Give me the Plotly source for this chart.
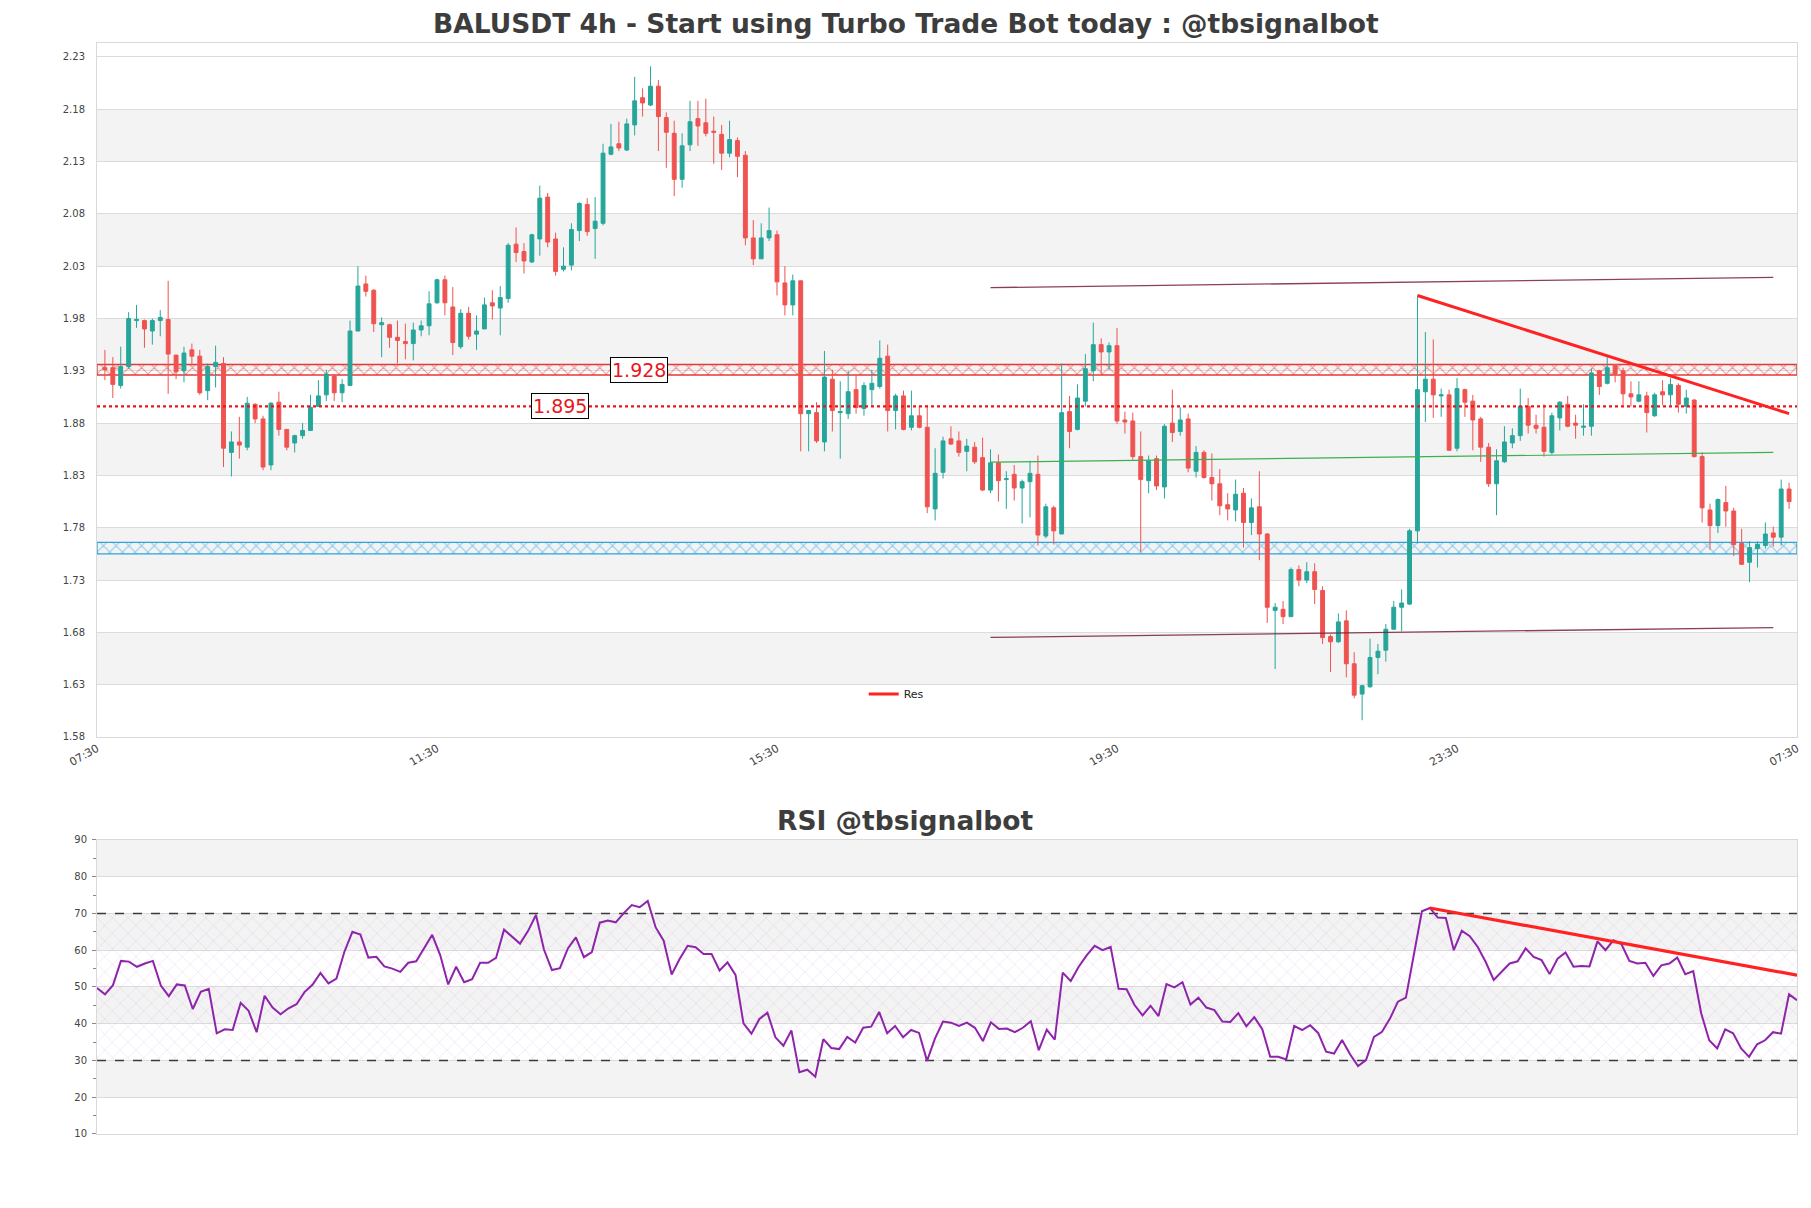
import numpy as np
import plotly.graph_objects as go

# ---------------- data ----------------
open_ = [1.933,1.933,1.916,1.934,1.978,1.978,1.968,1.978,1.979,1.945,
         1.930,1.950,1.944,1.911,1.934,1.937,1.852,1.862,1.857,1.898,
         1.884,1.840,1.900,1.874,1.861,1.868,1.873,1.896,1.907,1.925,
         1.909,1.916,1.968,2.013,2.007,1.974,1.974,1.962,1.958,1.956,
         1.969,1.973,1.995,2.017,1.991,1.953,1.985,1.965,1.970,1.995,
         1.990,1.999,2.051,2.044,2.034,2.056,2.096,2.056,2.027,2.031,
         2.064,2.089,2.066,2.071,2.137,2.147,2.141,2.165,2.191,2.184,
         2.202,2.172,2.157,2.113,2.146,2.171,2.167,2.159,2.156,2.138,
         2.150,2.136,2.057,2.037,2.057,2.060,2.014,1.993,2.016,1.889,
         1.890,1.862,1.922,1.890,1.889,1.912,1.894,1.912,1.915,1.944,
         1.892,1.906,1.876,1.887,1.876,1.798,1.833,1.865,1.863,1.853,
         1.857,1.847,1.816,1.842,1.826,1.831,1.818,1.824,1.831,1.772,
         1.799,1.774,1.891,1.874,1.901,1.930,1.955,1.948,1.954,1.883,
         1.882,1.848,1.825,1.846,1.819,1.880,1.872,1.884,1.834,1.852,
         1.828,1.822,1.802,1.797,1.813,1.785,1.800,1.774,1.701,1.702,
         1.695,1.740,1.730,1.738,1.720,1.676,1.671,1.691,1.650,1.621,
         1.628,1.656,1.663,1.683,1.704,1.707,1.777,1.910,1.922,1.906,
         1.907,1.856,1.912,1.901,1.884,1.857,1.822,1.843,1.861,1.868,
         1.896,1.878,1.876,1.852,1.885,1.898,1.880,1.876,1.877,1.930,
         1.918,1.936,1.930,1.908,1.901,1.906,1.887,1.910,1.907,1.916,
         1.896,1.902,1.848,1.797,1.782,1.804,1.796,1.765,1.747,1.760,
         1.763,1.775,1.771,1.817]
high = [1.950,1.943,1.953,1.986,1.993,1.979,1.980,1.988,2.016,1.945,
        1.953,1.956,1.950,1.937,1.954,1.943,1.872,1.886,1.905,1.899,
        1.887,1.900,1.910,1.874,1.869,1.880,1.907,1.921,1.931,1.927,
        1.922,1.978,2.030,2.021,2.008,1.981,1.975,1.978,1.975,1.976,
        1.978,2.006,2.018,2.021,2.010,1.989,1.991,1.983,2.000,2.007,
        2.011,2.052,2.067,2.052,2.061,2.107,2.100,2.062,2.048,2.071,
        2.091,2.095,2.096,2.147,2.166,2.168,2.171,2.211,2.200,2.221,
        2.208,2.177,2.169,2.157,2.188,2.188,2.190,2.173,2.165,2.169,
        2.153,2.140,2.074,2.071,2.086,2.064,2.030,2.022,2.016,1.892,
        1.900,1.949,1.931,1.920,1.930,1.926,1.919,1.931,1.959,1.955,
        1.908,1.911,1.911,1.896,1.897,1.856,1.867,1.877,1.872,1.865,
        1.862,1.866,1.855,1.850,1.834,1.840,1.826,1.844,1.849,1.803,
        1.801,1.937,1.906,1.917,1.946,1.976,1.961,1.957,1.971,1.891,
        1.890,1.872,1.849,1.849,1.879,1.912,1.895,1.889,1.858,1.854,
        1.851,1.836,1.813,1.826,1.818,1.808,1.834,1.775,1.708,1.710,
        1.742,1.744,1.747,1.746,1.724,1.678,1.698,1.701,1.661,1.630,
        1.674,1.669,1.688,1.710,1.721,1.779,2.002,1.967,1.960,1.913,
        1.912,1.923,1.913,1.907,1.886,1.861,1.855,1.877,1.875,1.913,
        1.904,1.888,1.898,1.890,1.901,1.906,1.888,1.898,1.932,1.931,
        1.943,1.936,1.933,1.920,1.920,1.910,1.909,1.921,1.923,1.918,
        1.912,1.903,1.852,1.803,1.808,1.820,1.799,1.779,1.767,1.767,
        1.785,1.781,1.826,1.823]
low = [1.921,1.904,1.913,1.932,1.971,1.952,1.955,1.963,1.908,1.922,
       1.919,1.935,1.907,1.902,1.914,1.838,1.829,1.846,1.854,1.880,
       1.835,1.835,1.868,1.854,1.852,1.865,1.873,1.896,1.901,1.901,
       1.900,1.916,1.968,2.001,1.967,1.943,1.952,1.937,1.941,1.940,
       1.963,1.964,1.994,1.983,1.945,1.951,1.960,1.950,1.970,1.979,
       1.964,1.995,2.034,2.023,2.033,2.040,2.048,2.021,2.025,2.026,
       2.054,2.059,2.037,2.069,2.136,2.140,2.140,2.155,2.173,2.183,
       2.140,2.124,2.097,2.105,2.140,2.145,2.154,2.128,2.122,2.134,
       2.115,2.050,2.031,2.037,2.054,2.002,1.983,1.983,1.853,1.853,
       1.861,1.853,1.872,1.846,1.884,1.889,1.887,1.896,1.913,1.872,
       1.874,1.873,1.873,1.875,1.794,1.787,1.827,1.859,1.848,1.834,
       1.841,1.815,1.813,1.805,1.798,1.806,1.784,1.790,1.763,1.770,
       1.764,1.774,1.856,1.873,1.896,1.920,1.927,1.931,1.879,1.870,
       1.845,1.757,1.813,1.816,1.808,1.862,1.868,1.833,1.828,1.827,
       1.806,1.792,1.787,1.786,1.761,1.773,1.749,1.689,1.645,1.688,
       1.695,1.724,1.727,1.707,1.669,1.642,1.670,1.637,1.617,1.596,
       1.627,1.640,1.652,1.683,1.681,1.706,1.765,1.881,1.885,1.886,
       1.854,1.853,1.886,1.854,1.843,1.819,1.792,1.842,1.856,1.863,
       1.870,1.870,1.848,1.850,1.873,1.876,1.865,1.868,1.868,1.907,
       1.917,1.919,1.897,1.896,1.900,1.871,1.886,1.897,1.897,1.890,
       1.889,1.847,1.785,1.759,1.775,1.781,1.753,1.745,1.728,1.742,
       1.760,1.762,1.763,1.798]
close = [1.931,1.917,1.934,1.980,1.979,1.970,1.978,1.981,1.946,1.929,
         1.947,1.944,1.909,1.934,1.938,1.856,1.862,1.859,1.899,1.884,
         1.838,1.899,1.874,1.857,1.868,1.873,1.895,1.906,1.927,1.909,
         1.917,1.968,2.011,2.006,1.975,1.976,1.962,1.959,1.956,1.969,
         1.973,1.994,2.017,1.995,1.957,1.985,1.963,1.968,1.993,1.992,
         2.000,2.050,2.043,2.035,2.060,2.095,2.053,2.025,2.030,2.065,
         2.090,2.063,2.073,2.138,2.144,2.143,2.166,2.188,2.186,2.202,
         2.173,2.158,2.113,2.145,2.168,2.164,2.157,2.158,2.138,2.151,
         2.135,2.057,2.037,2.057,2.064,2.015,1.993,2.016,1.889,1.892,
         1.863,1.924,1.892,1.891,1.910,1.895,1.916,1.918,1.942,1.892,
         1.906,1.874,1.887,1.876,1.800,1.832,1.863,1.860,1.852,1.858,
         1.843,1.816,1.842,1.825,1.827,1.818,1.824,1.832,1.773,1.800,
         1.777,1.890,1.872,1.904,1.932,1.955,1.948,1.954,1.882,1.881,
         1.848,1.826,1.844,1.820,1.877,1.871,1.883,1.837,1.852,1.828,
         1.822,1.801,1.798,1.812,1.785,1.799,1.774,1.704,1.704,1.695,
         1.740,1.730,1.738,1.721,1.675,1.671,1.690,1.650,1.620,1.629,
         1.656,1.662,1.683,1.704,1.708,1.777,1.912,1.922,1.907,1.907,
         1.854,1.913,1.900,1.883,1.857,1.822,1.844,1.862,1.868,1.896,
         1.878,1.875,1.853,1.887,1.900,1.877,1.878,1.877,1.928,1.915,
         1.933,1.927,1.908,1.905,1.907,1.890,1.907,1.907,1.917,1.898,
         1.904,1.848,1.799,1.782,1.807,1.796,1.764,1.745,1.761,1.764,
         1.774,1.771,1.817,1.805]
rsi = [49.7,48.0,50.5,57.1,56.9,55.5,56.4,57.1,50.4,47.5,
       50.7,50.4,44.0,48.7,49.5,37.4,38.5,38.3,45.7,43.5,
       37.7,47.6,44.4,42.6,44.2,45.3,48.6,50.6,53.8,51.0,
       52.3,59.6,65.0,64.3,58.0,58.2,55.6,55.0,54.1,56.6,
       57.0,60.6,64.2,58.7,50.7,55.5,51.3,52.1,56.6,56.6,
       57.9,65.6,63.7,61.8,65.2,69.6,60.2,54.6,55.1,60.5,
       63.5,58.1,59.5,67.5,68.1,67.6,70.1,72.3,71.7,73.4,
       66.2,62.6,53.4,57.6,61.2,60.8,59.0,59.0,54.5,56.7,
       53.3,40.1,37.3,41.3,43.0,36.3,34.0,38.2,26.8,27.5,
       25.6,35.8,33.4,33.1,36.4,34.9,38.9,39.2,43.2,37.4,
       39.4,36.3,38.3,37.5,29.9,36.0,40.6,40.3,39.4,40.3,
       38.9,35.3,40.4,38.6,38.7,37.7,38.9,40.7,32.8,38.4,
       35.7,53.9,51.6,55.5,58.6,61.2,60.0,60.9,49.5,49.4,
       45.1,42.3,44.9,42.1,50.8,49.9,51.3,45.2,47.1,44.4,
       43.7,40.6,40.5,42.9,39.3,41.8,38.5,31.0,31.0,30.3,
       39.4,38.3,39.6,37.5,32.4,31.9,35.6,31.7,28.5,30.1,
       36.4,37.8,41.4,46.0,47.1,59.1,70.6,71.5,68.9,68.8,
       60.0,65.3,63.8,60.9,56.8,51.9,54.1,56.4,57.0,60.5,
       58.2,57.3,53.5,57.7,59.4,55.5,55.7,55.6,62.4,60.0,
       62.7,61.7,57.1,56.4,56.6,53.0,55.9,56.4,58.0,53.5,
       54.3,42.8,35.5,33.3,38.5,37.4,33.3,31.0,34.4,35.5,
       37.7,37.3,48.0,46.4]
x_tick_labels = ["07:30", "11:30", "15:30", "19:30", "23:30", "07:30"]

res_band = [1.926, 1.936]
res_label = "1.928"
pivot_level = 1.896
pivot_label = "1.895"
sup_band = [1.755, 1.766]
channel_x = [112, 211]
channel_upper = [2.0095, 2.0192]
channel_lower = [1.6752, 1.6845]
mid_line = [1.8427, 1.8520]
trend_x = [166, 213]
trend_y = [2.002, 1.889]
rsi_trend_x = [167, 213]
rsi_trend_y = [71.5, 53.2]
rsi_levels = [30, 70]

title_main = "BALUSDT 4h - Start using Turbo Trade Bot today : @tbsignalbot"
title_rsi = "RSI @tbsignalbot"

# ---------------- figure ----------------
n = len(close)
x = list(range(n))
xmin, xmax = -1, n
GREEN = "#26a69a"
RED = "#ef5350"

fig = go.Figure()

def hatch_band(lo, hi, color, xa, ya, x0, x1, size=10, solidity=0.12, line=True):
    return go.Bar(
        x=[(x0 + x1) / 2], y=[hi - lo], base=[lo], width=[x1 - x0],
        marker=dict(color="rgba(0,0,0,0)",
                    line=dict(color=color, width=1.3 if line else 0),
                    pattern=dict(shape="x", fgcolor=color, size=size,
                                 solidity=solidity, fillmode="overlay")),
        showlegend=False, hoverinfo="skip", xaxis=xa, yaxis=ya)

fig.add_trace(hatch_band(res_band[0], res_band[1], "#e53935", "x", "y", xmin, xmax, size=9, solidity=0.22))
fig.add_trace(hatch_band(sup_band[0], sup_band[1], "#2ea3dc", "x", "y", xmin, xmax, size=9, solidity=0.22))

fig.add_trace(go.Candlestick(
    x=x, open=open_, high=high, low=low, close=close,
    increasing=dict(line=dict(color=GREEN, width=1), fillcolor=GREEN),
    decreasing=dict(line=dict(color=RED, width=1), fillcolor=RED),
    whiskerwidth=0, showlegend=False, xaxis="x", yaxis="y"))

fig.add_trace(go.Scatter(x=[xmin, xmax], y=[pivot_level, pivot_level], mode="lines",
                         line=dict(color="#e8161b", width=2.2, dash="dot"),
                         showlegend=False, hoverinfo="skip"))
for yy in (channel_upper, channel_lower):
    fig.add_trace(go.Scatter(x=channel_x, y=yy, mode="lines",
                             line=dict(color="rgba(120,30,55,0.85)", width=1.3),
                             showlegend=False, hoverinfo="skip"))
fig.add_trace(go.Scatter(x=channel_x, y=mid_line, mode="lines",
                         line=dict(color="#3fae4c", width=1.2),
                         showlegend=False, hoverinfo="skip"))
fig.add_trace(go.Scatter(x=trend_x, y=trend_y, mode="lines", name="Res",
                         line=dict(color="#ff2222", width=3), showlegend=True))

# RSI panel
fig.add_trace(hatch_band(30, 70, "rgba(185,130,205,0.55)", "x2", "y2", 0, n - 1,
                         size=11, solidity=0.1, line=False))
for lv in rsi_levels:
    fig.add_trace(go.Scatter(x=[0, n - 1], y=[lv, lv], mode="lines", xaxis="x2", yaxis="y2",
                             line=dict(color="#3a3a3a", width=1.4, dash="dash"),
                             showlegend=False, hoverinfo="skip"))
fig.add_trace(go.Scatter(x=x, y=rsi, mode="lines", xaxis="x2", yaxis="y2",
                         line=dict(color="#8e24aa", width=2), showlegend=False))
fig.add_trace(go.Scatter(x=rsi_trend_x, y=rsi_trend_y, mode="lines", xaxis="x2", yaxis="y2",
                         line=dict(color="#ff2222", width=3.2), showlegend=False))

shapes = []
for b in np.arange(1.63, 2.2, 0.10):
    shapes.append(dict(type="rect", xref="x domain", yref="y", x0=0, x1=1, y0=b, y1=b + 0.05,
                       fillcolor="#f3f3f3", line=dict(width=0), layer="below"))
for b in (20, 40, 60, 80):
    shapes.append(dict(type="rect", xref="x2 domain", yref="y2", x0=0, x1=1, y0=b, y1=b + 10,
                       fillcolor="#f3f3f3", line=dict(width=0), layer="below"))

annotations = [
    dict(text="<b>%s</b>" % title_main, xref="paper", yref="paper", x=0.4756, y=1.0183,
         showarrow=False, font=dict(size=26.5, color="#3d3d3d", family="DejaVu Sans"),
         xanchor="center", yanchor="middle"),
    dict(text="<b>%s</b>" % title_rsi, xref="paper", yref="paper", x=0.4756, y=0.2878,
         showarrow=False, font=dict(size=26.5, color="#3d3d3d", family="DejaVu Sans"),
         xanchor="center", yanchor="middle"),
    dict(text=res_label, x=67.5, y=(res_band[0] + res_band[1]) / 2, xref="x", yref="y",
         showarrow=False, font=dict(size=19, color="#e8161b"), bgcolor="white",
         bordercolor="black", borderwidth=1, borderpad=1),
    dict(text=pivot_label, x=57.6, y=pivot_level, xref="x", yref="y",
         showarrow=False, font=dict(size=19, color="#e8161b"), bgcolor="white",
         bordercolor="black", borderwidth=1, borderpad=1),
]

axis_common = dict(showline=True, mirror=True, linecolor="#d9d9d9", linewidth=1, zeroline=False)
fig.update_layout(
    width=1811, height=1208,
    margin=dict(l=89, r=22, t=35, b=82),
    paper_bgcolor="white", plot_bgcolor="white",
    barmode="overlay",
    font=dict(family="DejaVu Sans", color="#444"),
    shapes=shapes, annotations=annotations,
    legend=dict(x=0.451, y=0.4033, xanchor="left", yanchor="middle",
                bgcolor="rgba(0,0,0,0)", font=dict(size=11, color="#222"), itemwidth=30),
    xaxis=dict(domain=[0, 1], anchor="y", range=[xmin, xmax],
               tickvals=list(np.linspace(xmin, xmax, 6)), ticktext=x_tick_labels,
               tickangle=-30, tickfont=dict(size=11, color="#444"), showgrid=False,
               rangeslider=dict(visible=False), **axis_common),
    yaxis=dict(domain=[0.3639, 1], anchor="x", range=[1.58, 2.2433], tick0=1.58, dtick=0.05,
               tickformat=".2f", showgrid=True, gridcolor="#dcdcdc", ticklabelstandoff=9,
               tickfont=dict(size=10, color="#444"), **axis_common),
    xaxis2=dict(domain=[0, 1], anchor="y2", range=[0, n - 1], showticklabels=False,
                showgrid=False, **axis_common),
    yaxis2=dict(domain=[0, 0.2695], anchor="x2", range=[10, 90], tick0=10, dtick=10,
                ticks="outside", ticklen=4, tickcolor="#888", showgrid=True, gridcolor="#dcdcdc",
                tickfont=dict(size=10, color="#444"), ticklabelstandoff=3,
                minor=dict(dtick=5, ticks="outside", ticklen=3, tickcolor="#888", showgrid=False),
                **axis_common),
)

fig.write_html("out.html")
